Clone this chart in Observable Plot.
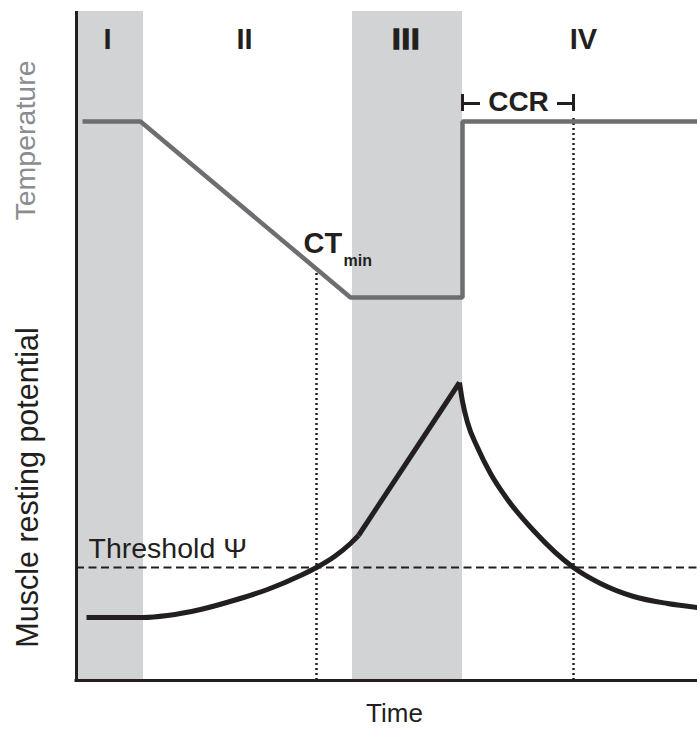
<!DOCTYPE html>
<html>
<head>
<meta charset="utf-8">
<script src="https://cdn.jsdelivr.net/npm/d3@7"></script>
<script src="https://cdn.jsdelivr.net/npm/@observablehq/plot@0.6"></script>
<style>
  html, body { margin: 0; padding: 0; background: #fff; }
  #chart svg { display: block; }
</style>
</head>
<body>
<div id="chart"></div>
<script>
// Phase shading bands (time units)
const bandStart = [0, 276];
const bandEnd = [67, 386];
const bandTop = 669;

// Phase labels
const phaseLabels = ["I", "II", "III", "IV"];
const phaseTime = [31, 168, 330, 507];
const phaseValue = 641;

// Temperature profile
const tempTime = [6, 64, 274, 386, 386, 621];
const tempValue = [559, 559, 383, 383, 559, 559];

// Muscle resting potential (three segments)
const potTime = [10, 67, 91, 124, 157, 191, 224, 240, 258, 274, 282,
                 282, 383,
                 383, 386, 391, 401, 414, 431, 457, 497, 524, 557, 591, 621];
const potValue = [63, 63, 65, 71, 80, 91, 105, 113, 124, 137, 145,
                  145, 298,
                  298, 279, 258, 233, 207, 181, 150, 113, 97, 84, 77, 73];
const potSegment = ["rise","rise","rise","rise","rise","rise","rise","rise","rise","rise","rise",
                    "ramp","ramp",
                    "decay","decay","decay","decay","decay","decay","decay","decay","decay","decay","decay","decay"];

// Threshold and markers
const thresholdValue = 113;
const ctMinTime = 240, ctMinValue = 412;
const ccrTime = 497, ccrTopValue = 562;
const ccrStart = 386;

const ink = "#231f20";
const tempColor = "#6d6e71";
const shade = "#d1d3d4";
const font = "'Liberation Sans', Arial, Helvetica, sans-serif";

const bands = bandStart.map((s, i) => ({x1: s, x2: bandEnd[i]}));
const phases = phaseLabels.map((l, i) => ({label: l, t: phaseTime[i]}));
const temp = tempTime.map((t, i) => ({t, v: tempValue[i]}));
const pot = potTime.map((t, i) => ({t, v: potValue[i], seg: potSegment[i]}));

const chart = Plot.plot({
  width: 697,
  height: 730,
  marginLeft: 76,
  marginRight: 0,
  marginTop: 11,
  marginBottom: 50,
  style: {fontFamily: font, background: "#fff", overflow: "visible"},
  x: {domain: [0, 621], axis: null},
  y: {domain: [0, 669], axis: null},
  marks: [
    Plot.rectX(bands, {x1: "x1", x2: "x2", y1: 0, y2: bandTop, fill: shade}),
    // dotted verticals
    Plot.ruleX([ctMinTime], {y1: 0, y2: ctMinValue, stroke: ink, strokeWidth: 2.5, strokeDasharray: "2,3"}),
    Plot.ruleX([ccrTime], {y1: 0, y2: ccrTopValue, stroke: ink, strokeWidth: 2.5, strokeDasharray: "2,3"}),
    // threshold
    Plot.ruleY([thresholdValue], {x1: 0, x2: 621, stroke: ink, strokeWidth: 2, strokeDasharray: "8,4.5"}),
    // temperature
    Plot.line(temp, {x: "t", y: "v", stroke: tempColor, strokeWidth: 4.5, strokeLinejoin: "miter", strokeLinecap: "butt"}),
    // resting potential
    Plot.line(pot, {x: "t", y: "v", z: "seg", curve: "monotone-x", stroke: ink, strokeWidth: 5, strokeLinejoin: "miter", strokeLinecap: "butt"}),
    // axes
    Plot.ruleX([0], {y1: 0, y2: bandTop, stroke: ink, strokeWidth: 3}),
    Plot.ruleY([0], {x1: -1.5, x2: 621, stroke: ink, strokeWidth: 3}),
    // CCR bracket
    Plot.ruleX([ccrStart, ccrTime], {y1: 569, y2: 586, stroke: ink, strokeWidth: 3}),
    Plot.ruleY([577], {x1: ccrStart, x2: 404, stroke: ink, strokeWidth: 3}),
    Plot.ruleY([577], {x1: 481, x2: ccrTime, stroke: ink, strokeWidth: 3}),
    Plot.text(["CCR"], {x: 442, y: 578, fontSize: 28, fontWeight: "bold", fill: ink}),
    // CT min
    Plot.text(["CT"], {x: 227, y: 437, fontSize: 29, fontWeight: "bold", fill: ink, textAnchor: "start"}),
    Plot.text(["min"], {x: 267, y: 420, fontSize: 16, fontWeight: "bold", fill: ink, textAnchor: "start"}),
    // threshold label
    Plot.text(["Threshold \u03A8"], {x: 12, y: 132, fontSize: 28.5, fill: ink, textAnchor: "start"}),
    // phase labels
    Plot.text(phases, {x: "t", y: phaseValue, text: "label", fontSize: 29, fontWeight: "bold", fill: ink}),
    // axis titles
    Plot.text(["Temperature"], {frameAnchor: "left", textAnchor: "middle", y: 540, dx: -51, rotate: -90, fontSize: 28.5, fill: "#8a8c8e"}),
    Plot.text(["Muscle resting potential"], {frameAnchor: "left", textAnchor: "middle", y: 193, dx: -48, rotate: -90, fontSize: 30.5, fill: ink}),
    Plot.text(["Time"], {x: 318, frameAnchor: "bottom", dy: 41, fontSize: 26, fill: ink})
  ]
});
// heavier, slightly wider "III" label as in the reference
d3.select(chart).selectAll("text").filter(function() { return this.textContent === "III"; })
  .style("letter-spacing", "1.5px")
  .attr("stroke", ink)
  .attr("stroke-width", 1.6);
document.getElementById("chart").appendChild(chart);
</script>
</body>
</html>
